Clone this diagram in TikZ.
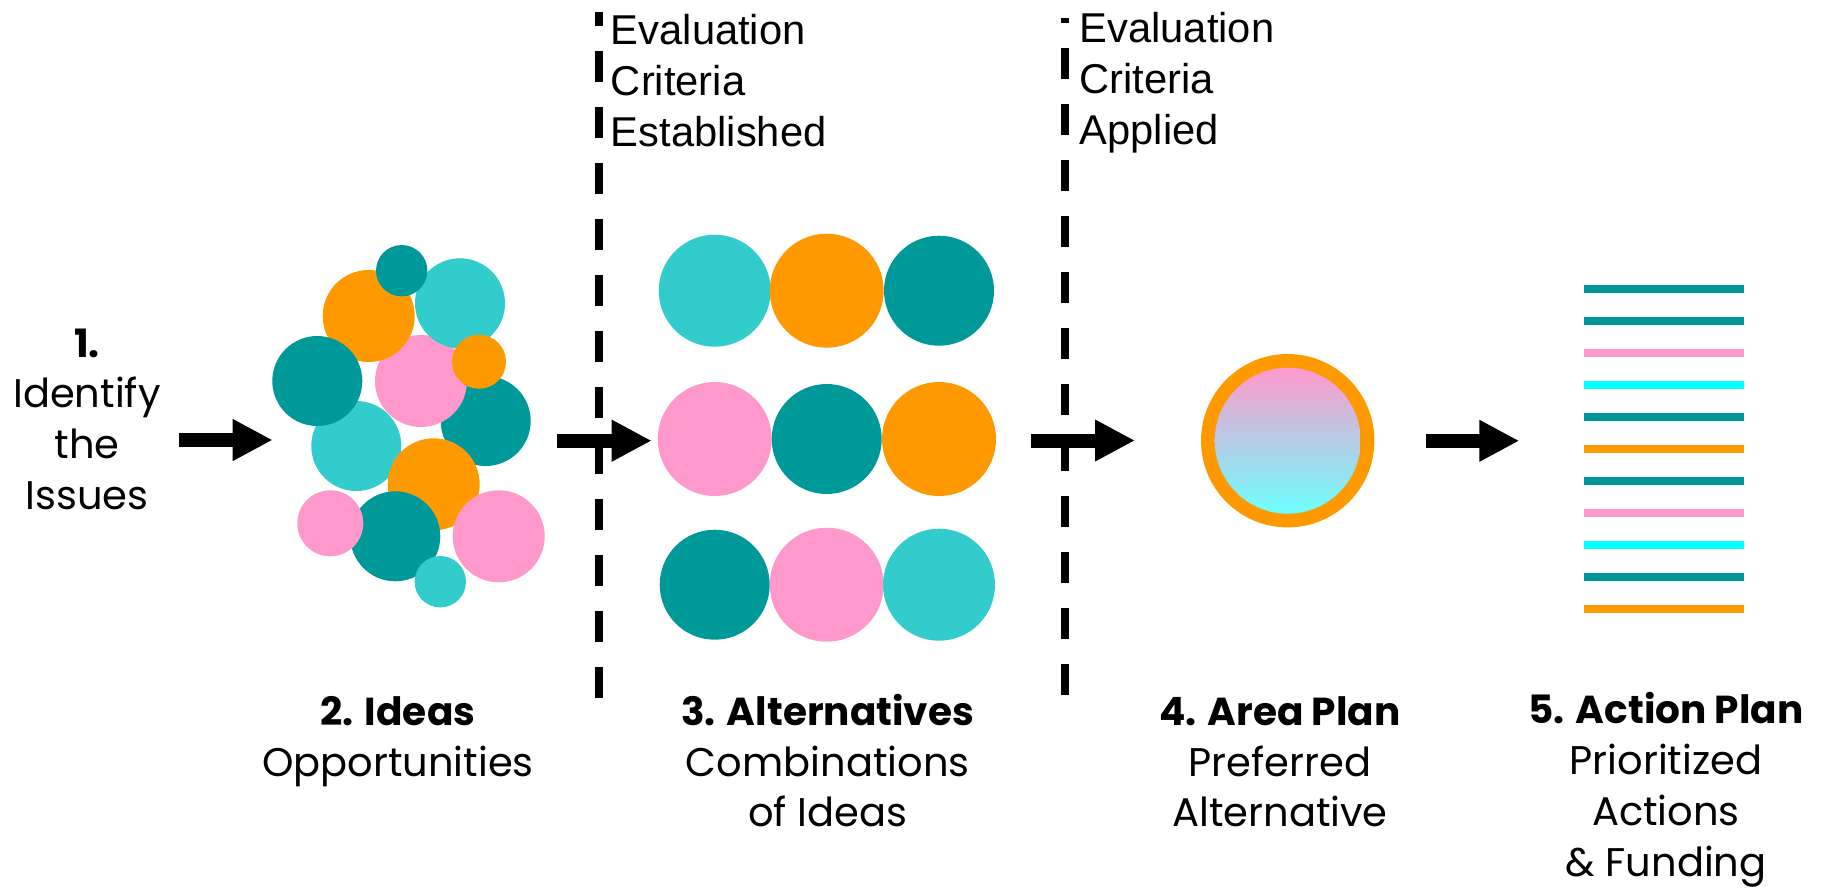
\documentclass[tikz,border=0pt]{standalone}
\usepackage{fontspec}
\setmainfont{Poppins}
\newfontfamily\arialf{Liberation Sans}
\usetikzlibrary{arrows.meta}
\definecolor{tealc}{HTML}{009999}
\definecolor{aquac}{HTML}{33CCCC}
\definecolor{orangec}{HTML}{FF9900}
\definecolor{pinkc}{HTML}{FF99CC}
\definecolor{cyanc}{HTML}{00FFFF}
\definecolor{cyanl}{HTML}{6CFFFF}
\newcommand{\hd}[1]{{\fontsize{39}{50.7}\selectfont\bfseries #1}}
\begin{document}
\begin{tikzpicture}[x=1pt,y=-1pt,
  lbl/.style={inner sep=0pt, align=center, anchor=base, font={\fontsize{40}{50.7}\selectfont}},
  evl/.style={inner sep=0pt, align=left, anchor=base west, font={\arialf\fontsize{41.7}{51}\selectfont}},
  bigarrow/.style={line width=14pt, -{Triangle[length=40pt,width=39pt]}},
  dashline/.style={line width=8.5pt, dash pattern=on 31.5pt off 24.5pt},
  planline/.style={line width=8pt}]
\useasboundingbox (0,0) rectangle (1824,887);
\fill[white] (0,0) rectangle (1824,887);

% dashed separators
\coordinate (d1b) at (599,698);
\coordinate (d1t) at (599,12.3);
\coordinate (d2b) at (1065,695);
\coordinate (d2t) at (1065,18.3);
\draw[dashline] (d1b) -- (d1t);
\draw[dashline] (d2b) -- (d2t);

% idea cluster
\fill[tealc]   (485.7,421)   circle (45pt);
\fill[pinkc]   (421,381)     circle (46pt);
\fill[orangec] (368.7,316)   circle (46pt);
\fill[aquac]   (460,303.3)   circle (45pt);
\fill[tealc]   (401.7,270.7) circle (25.7pt);
\fill[orangec] (479,361.7)   circle (27pt);
\fill[aquac]   (356.3,446)   circle (45pt);
\fill[tealc]   (317.3,381)   circle (45pt);
\fill[orangec] (433.7,484.3) circle (46pt);
\fill[tealc]   (395.3,536.3) circle (45pt);
\fill[pinkc]   (330.3,523.3) circle (33pt);
\fill[pinkc]   (498.7,536.3) circle (46pt);
\fill[aquac]   (440.3,581.7) circle (25.7pt);

% alternatives grid
\fill[aquac]   (714.7,290.7) circle (56pt);
\fill[orangec] (826.7,290.7) circle (57pt);
\fill[tealc]   (939,290.7)   circle (55pt);
\fill[pinkc]   (714.7,439)   circle (57pt);
\fill[tealc]   (826.7,439)   circle (55pt);
\fill[orangec] (939,439)     circle (57pt);
\fill[tealc]   (714.7,584.7) circle (55pt);
\fill[pinkc]   (826.7,584.7) circle (57pt);
\fill[aquac]   (939,584.7)   circle (56pt);

% area plan
\fill[orangec] (1287.7,440.7) circle (86.7pt);
\shade[top color=pinkc, bottom color=cyanl] (1287.7,440.7) circle (73pt);

% action plan lines
\foreach \yy/\cc in {288.7/tealc,320.7/tealc,352.7/pinkc,384.7/cyanc,416.7/tealc,448.7/orangec,480.7/tealc,512.7/pinkc,544.7/cyanc,576.7/tealc,608.7/orangec}
  \draw[planline,\cc] (1584,\yy) -- (1744,\yy);

% arrows
\coordinate (a1s) at (179,440);   \coordinate (a1e) at (272.7,440);
\coordinate (a2s) at (557.3,440.7); \coordinate (a2e) at (651.7,440.7);
\coordinate (a3s) at (1031,440.5); \coordinate (a3e) at (1135,440.5);
\coordinate (a4s) at (1426,440.8); \coordinate (a4e) at (1519.3,440.8);
\draw[bigarrow] (a1s) -- (a1e);
\draw[bigarrow] (a2s) -- (a2e);
\draw[bigarrow] (a3s) -- (a3e);
\draw[bigarrow] (a4s) -- (a4e);

% texts (anchor = baseline of last line)
\node[lbl] (t1) at (87,509.3) {\hd{1.}\\Identify\\the\\Issues};
\node[lbl] (t2) at (398,776) {\hd{2. Ideas}\\Opportunities};
\node[lbl] (t3) at (827.7,826.7) {\hd{3. Alternatives}\\Combinations\\of Ideas};
\node[lbl] (t4) at (1280,826.7) {\hd{4. Area Plan}\\Preferred\\Alternative};
\node[lbl] (t5) at (1666,876) {\hd{5. Action Plan}\\Prioritized\\Actions\\\& Funding};
\node[evl] (e1) at (610.7,146.7) {Evaluation\\Criteria\\Established};
\node[evl] (e2) at (1079.4,144) {Evaluation\\Criteria\\Applied};
\end{tikzpicture}
\end{document}
